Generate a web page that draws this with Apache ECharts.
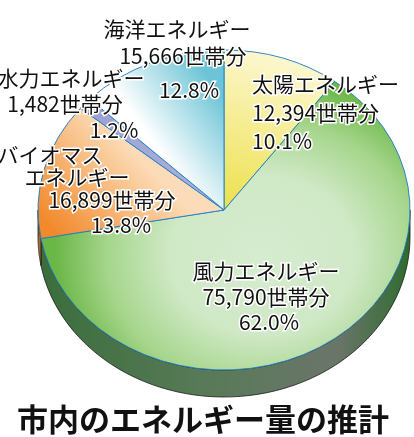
<!DOCTYPE html>
<html>
<head>
<meta charset="utf-8">
<script src="https://cdn.jsdelivr.net/npm/echarts@6/dist/echarts.min.js"></script>
<style>
html, body { margin: 0; padding: 0; background: #fff; }
#main { width: 414px; height: 437px; }
</style>
</head>
<body>
<div id="main"></div>
<script>
// data
var names = ['太陽エネルギー', '風力エネルギー', 'バイオマス\nエネルギー', '水力エネルギー', '海洋エネルギー'];
var households = [12394, 75790, 16899, 1482, 15666];
var unit = '世帯分';
var titleText = '市内のエネルギー量の推計';

// layout
var cx = 224, cy = 210, rx = 186, ry = 160, depth = 27;
var font = '"Noto Sans CJK JP", "Noto Sans", sans-serif';
var labelPos = [
    {align: 'left', pos: [[252, 84], [252, 113], [252, 141]]},
    {align: 'center', pos: [[266, 271], [266, 297], [269, 322]]},
    {align: 'center', pos: [[50, 155], [77, 177], [112, 200], [121, 225]]},
    {align: 'center', pos: [[71, 78], [65, 104], [114, 130]]},
    {align: 'center', pos: [[177, 29], [183, 56], [189, 90]]}
];
var topFills = [
    {type: 'linear', x: 0, y: 1, x2: 0.6, y2: 0, colorStops: [
        {offset: 0, color: '#ede04a'}, {offset: 1, color: '#fdf9d8'}]},
    {type: 'radial', x: 0.6, y: 0.6, r: 0.62, colorStops: [
        {offset: 0, color: '#d6ecd0'}, {offset: 0.45, color: '#cfe8c5'},
        {offset: 0.75, color: '#a5d58b'}, {offset: 1, color: '#6ab646'}]},
    {type: 'linear', x: 0, y: 0.8, x2: 0.5, y2: 0.3, colorStops: [
        {offset: 0, color: '#f28a2c'}, {offset: 1, color: '#fcdcb8'}]},
    {type: 'linear', x: 0, y: 0, x2: 1, y2: 1, colorStops: [
        {offset: 0, color: '#9b9fd2'}, {offset: 1, color: '#b0b3dc'}]},
    {type: 'linear', x: 1, y: 0.3, x2: 0.45, y2: 0.55, colorStops: [
        {offset: 0, color: '#6cc4d6'}, {offset: 1, color: '#ffffff'}]}
];
var sideFills = [
    '#8a8430',
    {type: 'linear', x: 0, y: 0, x2: 1, y2: 0, colorStops: [
        {offset: 0, color: '#3b6e3c'}, {offset: 0.45, color: '#587a58'},
        {offset: 0.8, color: '#6b756a'}, {offset: 0.95, color: '#3f6f3f'}, {offset: 1, color: '#2d6a2d'}]},
    '#b0692e',
    '#5a5e8a',
    '#3c7d8a'
];

var total = households.reduce(function (a, b) { return a + b; }, 0);

function sliceAngles(idx) {
    var before = 0;
    for (var i = 0; i < idx; i++) before += households[i];
    var a0 = -Math.PI / 2 + before / total * Math.PI * 2;
    var a1 = a0 + households[idx] / total * Math.PI * 2;
    return [a0, a1];
}

function renderSide(params, api) {
    var ang = sliceAngles(params.dataIndex);
    var lo = Math.max(ang[0], 0), hi = Math.min(ang[1], Math.PI);
    if (lo >= hi) return;
    var pts = [], n = 60, i, t;
    for (i = 0; i <= n; i++) {
        t = lo + (hi - lo) * i / n;
        pts.push([cx + rx * Math.cos(t), cy + ry * Math.sin(t)]);
    }
    for (i = n; i >= 0; i--) {
        t = lo + (hi - lo) * i / n;
        pts.push([cx + rx * Math.cos(t), cy + depth + ry * Math.sin(t)]);
    }
    return {
        type: 'polygon',
        shape: {points: pts},
        style: {fill: sideFills[params.dataIndex], stroke: '#1a1a1a', lineWidth: 0.8}
    };
}

function renderTop(params, api) {
    var idx = params.dataIndex;
    var ang = sliceAngles(idx);
    var value = api.value(0);
    var lines = names[idx].split('\n');
    lines.push(value.toLocaleString('en-US') + unit);
    lines.push((value / total * 100).toFixed(1) + '%');
    var lp = labelPos[idx];
    var texts = lines.map(function (s, k) {
        return {
            type: 'text',
            z2: 10,
            x: lp.pos[k][0],
            y: lp.pos[k][1],
            style: {
                text: s,
                fontSize: 21,
                fontFamily: font,
                fill: '#111',
                stroke: '#fff',
                lineWidth: 3,
                align: lp.align,
                verticalAlign: 'middle'
            }
        };
    });
    return {
        type: 'group',
        children: [{
            type: 'sector',
            x: cx,
            y: cy,
            scaleY: ry / rx,
            shape: {cx: 0, cy: 0, r0: 0, r: rx, startAngle: ang[0], endAngle: ang[1], clockwise: true},
            style: {fill: topFills[idx], stroke: '#1f7fc4', lineWidth: 1, strokeNoScale: true}
        }].concat(texts)
    };
}

var myChart = echarts.init(document.getElementById('main'));
var option = {
    animation: false,
    graphic: [{
        type: 'text',
        x: 203,
        y: 419,
        style: {
            text: titleText,
            fontSize: 31,
            fontWeight: 'bold',
            fontFamily: font,
            fill: '#111',
            align: 'center',
            verticalAlign: 'middle'
        }
    }],
    series: [
        {
            name: 'side',
            type: 'custom',
            coordinateSystem: 'none',
            z: 1,
            renderItem: renderSide,
            data: households
        },
        {
            name: 'top',
            type: 'custom',
            coordinateSystem: 'none',
            z: 2,
            renderItem: renderTop,
            data: households
        }
    ]
};
myChart.setOption(option);
</script>
</body>
</html>
